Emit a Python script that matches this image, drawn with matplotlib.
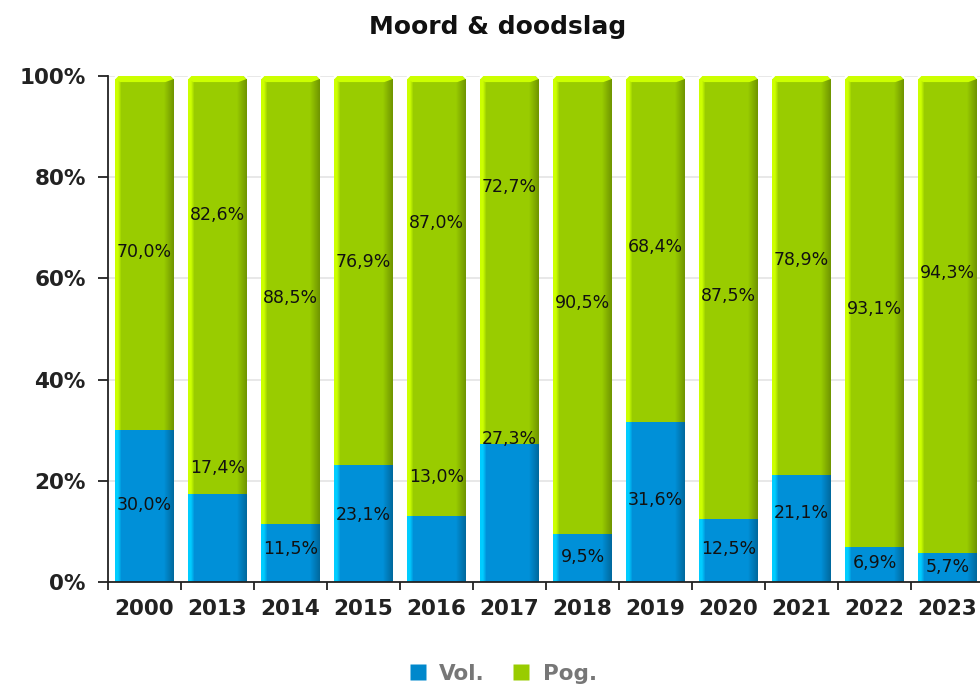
import numpy as np
import matplotlib
matplotlib.use("Agg")
import matplotlib.pyplot as plt
from matplotlib.colors import to_rgb
from matplotlib.patches import Polygon
from matplotlib.lines import Line2D

# ---- data ----
years = ["2000", "2013", "2014", "2015", "2016", "2017", "2018", "2019", "2020", "2021", "2022", "2023"]
vol = [30.0, 17.4, 11.5, 23.1, 13.0, 27.3, 9.5, 31.6, 12.5, 21.1, 6.9, 5.7]
pog = [70.0, 82.6, 88.5, 76.9, 87.0, 72.7, 90.5, 68.4, 87.5, 78.9, 93.1, 94.3]
# label anchor heights (percent) as shown in the reference
vol_label_y = [15.2, 22.5, 6.5, 13.2, 20.8, 28.3, 4.9, 16.2, 6.5, 13.6, 3.8, 3.0]
pog_label_y = [65.2, 72.5, 56.1, 63.2, 70.9, 78.1, 55.1, 66.2, 56.5, 63.6, 54.0, 61.1]
yticks = [0, 20, 40, 60, 80, 100]
ytick_labels = ["0%", "20%", "40%", "60%", "80%", "100%"]
series_names = ["Vol.", "Pog."]

BLUE = {"light": "#00ccff", "face": "#0090d8", "dark": "#00689c"}
GREEN = {"light": "#ccff00", "face": "#99cc00", "dark": "#6f9400"}

def gradient_row(c):
    light, face, dark = (np.array(to_rgb(c[k])) for k in ("light", "face", "dark"))
    n = 232
    t = (np.arange(n) + 0.5) / n
    row = np.zeros((n, 3))
    for i, f in enumerate(t):
        if f < 0.05:
            row[i] = light
        elif f < 0.11:
            a = (f - 0.05) / 0.06
            row[i] = light * (1 - a) + face * a
        elif f < 0.83:
            row[i] = face
        else:
            a = (f - 0.83) / 0.17
            row[i] = face * (1 - a) + dark * a
    return row[None, :, :]

fig = plt.figure(figsize=(9.8, 6.85), dpi=100)
ax = fig.add_axes([108 / 980, 1 - 582 / 685, 876 / 980, 506 / 685])

w = 0.795
x = np.arange(len(years))
ax.bar(x, vol, width=w, color=BLUE["face"], zorder=2)
ax.bar(x, pog, width=w, bottom=vol, color=GREEN["face"], zorder=2)

gb = gradient_row(BLUE)
gg = gradient_row(GREEN)
for i in range(len(years)):
    x0, x1 = x[i] - w / 2, x[i] + w / 2
    ax.imshow(gb, extent=(x0, x1, 0, vol[i]), aspect="auto", interpolation="nearest", zorder=3)
    top = vol[i] + pog[i]
    ax.imshow(gg, extent=(x0, x1, vol[i], top), aspect="auto", interpolation="nearest", zorder=3)
    # top bevel cap
    h = 1.2
    lw = w * 0.08
    rw = w * 0.14
    rx = w * 0.05   # corner size in x
    ry = 0.6        # corner size in y
    cap = Polygon([(x0, top - ry), (x0 + rx, top), (x1 - rx, top), (x1, top - ry),
                   (x1 - rw, top - h), (x0 + lw, top - h)], closed=True,
                  facecolor=GREEN["light"], edgecolor="none", zorder=4)
    ax.add_patch(cap)
    # cut corners (rounded look)
    ax.add_patch(Polygon([(x0 - 0.01, top + 0.2), (x0 + rx, top + 0.2), (x0 + rx, top), (x0, top - ry), (x0 - 0.01, top - ry)],
                         closed=True, facecolor="white", edgecolor="none", zorder=4))
    ax.add_patch(Polygon([(x1 + 0.01, top + 0.2), (x1 - rx, top + 0.2), (x1 - rx, top), (x1, top - ry), (x1 + 0.01, top - ry)],
                         closed=True, facecolor="white", edgecolor="none", zorder=4))

def fmt(v):
    return f"{v:.1f}".replace(".", ",") + "%"

for i in range(len(years)):
    ax.text(x[i], vol_label_y[i], fmt(vol[i]), ha="center", va="center",
            fontsize=12.5, color="#111111", zorder=6)
    ax.text(x[i], pog_label_y[i], fmt(pog[i]), ha="center", va="center",
            fontsize=12.5, color="#111111", zorder=6)

ax.set_xlim(-0.5, len(years) - 0.5)
ax.set_ylim(0, 100)
ax.set_yticks(yticks)
ax.set_yticklabels(ytick_labels, fontsize=15.5, fontweight="bold", color="#222222")
ax.set_xticks(x)
ax.set_xticklabels(years, fontsize=15.5, fontweight="bold", color="#222222")
ax.set_xticks(np.arange(-0.5, len(years), 1.0), minor=True)
ax.tick_params(axis="x", which="major", length=0, pad=12)
ax.tick_params(axis="x", which="minor", length=6, width=1.3, color="#222222", direction="out")
ax.tick_params(axis="y", which="major", length=7, width=1.3, color="#222222", pad=9)

ax.grid(axis="y", color="#e4e4e4", linewidth=1.2, zorder=0)
ax.set_axisbelow(True)
for s in ["top", "right"]:
    ax.spines[s].set_visible(False)
for s in ["left", "bottom"]:
    ax.spines[s].set_color("#222222")
    ax.spines[s].set_linewidth(1.3)
    ax.spines[s].set_zorder(7)

fig.text(498 / 980, 1 - 27 / 685, "Moord & doodslag", ha="center", va="center",
         fontsize=18, fontweight="bold", color="#111111")

handles = [Line2D([], [], marker="s", linestyle="none", markersize=12, markerfacecolor="#0088cc",
                  markeredgecolor="none"),
           Line2D([], [], marker="s", linestyle="none", markersize=12, markerfacecolor="#99cc00",
                  markeredgecolor="none")]
leg = fig.legend(handles, series_names, loc="center", bbox_to_anchor=(502 / 980, 1 - 674 / 685),
                 ncol=2, frameon=False, handlelength=1.0, handletextpad=0.5, columnspacing=1.2,
                 prop={"size": 15.5, "weight": "bold"})
for t in leg.get_texts():
    t.set_color("#777777")

fig.savefig("out.png", dpi=100)
